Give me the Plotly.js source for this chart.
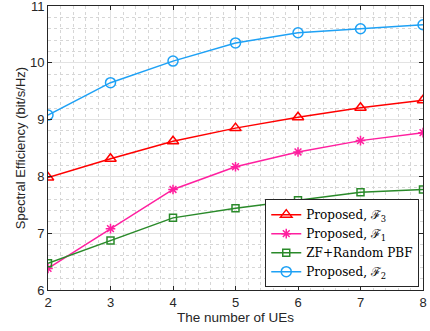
<!DOCTYPE html>
<html><head><meta charset="utf-8">
<script src="https://cdn.plot.ly/plotly-3.0.1.min.js"></script>
<style>html,body{margin:0;padding:0;background:#fff}#chart{width:430px;height:331px}</style>
</head><body><div id="chart"></div>
<script>
var users = [2, 3, 4, 5, 6, 7, 8];
var propF3 = [7.98, 8.31, 8.62, 8.85, 9.04, 9.21, 9.34];
var propF1 = [6.38, 7.08, 7.77, 8.17, 8.43, 8.63, 8.77];
var zfRandom = [6.47, 6.87, 7.27, 7.44, 7.58, 7.72, 7.77];
var propF2 = [9.08, 9.65, 10.03, 10.35, 10.53, 10.60, 10.67];
var names = ['Proposed, ℱ<sub>3</sub>', 'Proposed, ℱ<sub>1</sub>', 'ZF+Random PBF', 'Proposed, ℱ<sub>2</sub>'];

function tr(y, name, color, symbol, size) {
  return {x: users, y: y, name: name, type: 'scatter', mode: 'lines+markers',
    line: {color: color, width: 1.5},
    marker: {symbol: symbol, size: size, color: color, line: {color: color, width: 1.5}}};
}
var data = [
  tr(propF3, names[0], '#ff0000', 'triangle-up-open', 10),
  tr(propF1, names[1], '#ff1f9f', 'asterisk-open', 8),
  tr(zfRandom, names[2], '#2a8a2a', 'square-open', 7),
  tr(propF2, names[3], '#1ea1f5', 'circle-open', 10)
];
var sans = 'Liberation Sans, Arial, sans-serif';
var axisCommon = {
  showline: true, mirror: 'ticks', linecolor: '#262626', linewidth: 1,
  ticks: 'inside', ticklen: 4, tickcolor: '#262626',
  showgrid: true, gridcolor: '#e3e3e3', gridwidth: 1,
  zeroline: false, ticklabeloverflow: 'allow',
  tickfont: {family: sans, size: 13, color: '#262626'},
  minor: {dtick: 0.2, showgrid: true, gridcolor: '#d6d6d6', griddash: 'dot', gridwidth: 1, ticks: ''}
};
var layout = {
  width: 430, height: 331,
  margin: {l: 48, r: 7, t: 6, b: 41},
  paper_bgcolor: '#fff', plot_bgcolor: '#fff',
  showlegend: true,
  xaxis: Object.assign({}, axisCommon, {range: [2, 8], dtick: 1,
    title: {text: 'The number of UEs', font: {family: sans, size: 13.5, color: '#262626'}, standoff: 3}}),
  yaxis: Object.assign({}, axisCommon, {range: [6, 11], dtick: 1,
    title: {text: 'Spectral Efficiency (bit/s/Hz)', font: {family: sans, size: 13, color: '#262626'}, standoff: 1}}),
  legend: {x: 0.99, y: 0.01, xanchor: 'right', yanchor: 'bottom',
    bgcolor: '#fff', bordercolor: '#262626', borderwidth: 1,
    font: {family: 'DejaVu Serif, Liberation Serif, serif', size: 12, color: '#000'},
    tracegroupgap: 0, itemwidth: 30}
};
Plotly.newPlot('chart', data, layout, {displayModeBar: false, staticPlot: true});
</script></body></html>
